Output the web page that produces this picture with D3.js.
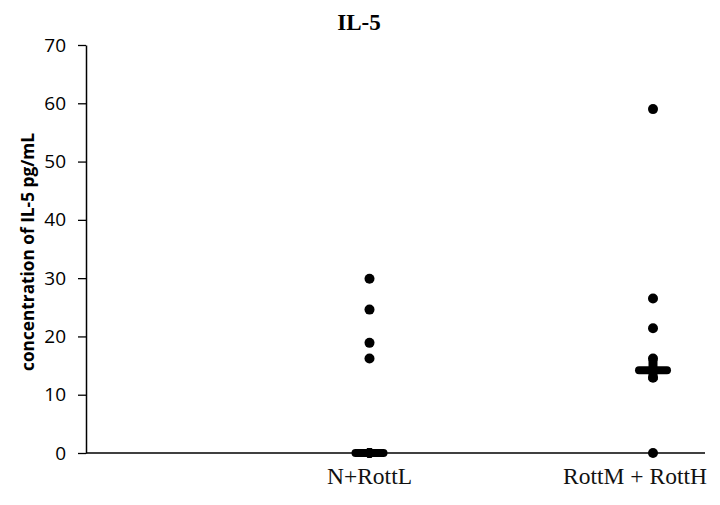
<!DOCTYPE html>
<html><head><meta charset="utf-8">
<script src="https://cdn.jsdelivr.net/npm/d3@7"></script>
<style>body{margin:0;background:#fff}</style>
</head><body>
<svg id="c" width="720" height="505"></svg>
<script>
const title = "IL-5";
const yLabel = "concentration of IL-5 pg/mL";
const categories = ["N+RottL", "RottM + RottH"];
const groupValues = [
  [29.9, 24.6, 18.9, 16.2, 0, 0, 0, 0],
  [59.0, 26.5, 21.4, 16.2, 12.9, 0]
];
const medians = [0, 14.2];
const yTicks = [0, 10, 20, 30, 40, 50, 60, 70];

const svg = d3.select("#c");
const mLeft = 86, mRight = 705, mTop = 45, mBottom = 453;
const y = d3.scaleLinear().domain([0, 70]).range([mBottom, mTop]);
const x = d3.scalePoint().domain(["", ...categories]).range([mLeft, 653]);
const labelShift = [0, -18];

// y axis
const ya = svg.append("g").attr("transform", `translate(${mLeft},0)`)
  .call(d3.axisLeft(y).tickValues(yTicks).tickSize(8).tickPadding(12).tickSizeOuter(0));
ya.select(".domain").attr("stroke", "#000").attr("stroke-width", 1.5);
ya.selectAll(".tick line").attr("stroke", "#000").attr("stroke-width", 1.3);
ya.selectAll(".tick text").attr("font-family", "'Open Sans', sans-serif").attr("font-size", 19).attr("fill", "#000");

// x axis line
svg.append("line").attr("x1", mLeft).attr("x2", mRight).attr("y1", y(0)).attr("y2", y(0))
  .attr("stroke", "#000").attr("stroke-width", 1.5);

// x labels
svg.selectAll(".xl").data(categories).enter().append("text")
  .attr("x", (d, i) => x(d) + labelShift[i]).attr("y", 484).attr("text-anchor", "middle")
  .attr("font-family", "'Liberation Serif', serif").attr("font-size", 23.5).attr("fill", "#111")
  .text(d => d);

// dots and medians
categories.forEach((c, i) => {
  const cx = x(c), cy = y(medians[i]);
  svg.selectAll(".d" + i).data(groupValues[i]).enter().append("circle")
    .attr("cx", cx).attr("cy", d => y(d)).attr("r", 5).attr("fill", "#000");
  svg.append("line").attr("x1", cx - 14).attr("x2", cx + 14).attr("y1", cy).attr("y2", cy)
    .attr("stroke", "#000").attr("stroke-width", 8).attr("stroke-linecap", "round");
  if (medians[i] > 0) {
    svg.append("line").attr("x1", cx).attr("x2", cx).attr("y1", cy - 10).attr("y2", cy + 10)
      .attr("stroke", "#000").attr("stroke-width", 9);
  }
});

// title
svg.append("text").attr("x", 359).attr("y", 30).attr("text-anchor", "middle")
  .attr("font-family", "'Liberation Serif', serif").attr("font-weight", "bold").attr("font-size", 23)
  .text(title);

// y label
const yl = svg.append("text").attr("transform", "translate(34,252) rotate(-90)").attr("text-anchor", "middle")
  .attr("font-family", "'Open Sans', sans-serif").attr("font-weight", "bold").attr("font-size", 16)
  .text(yLabel);
const len = yl.node().getComputedTextLength();
if (len > 0) yl.attr("font-size", 16 * 238 / len);
</script>
</body></html>
